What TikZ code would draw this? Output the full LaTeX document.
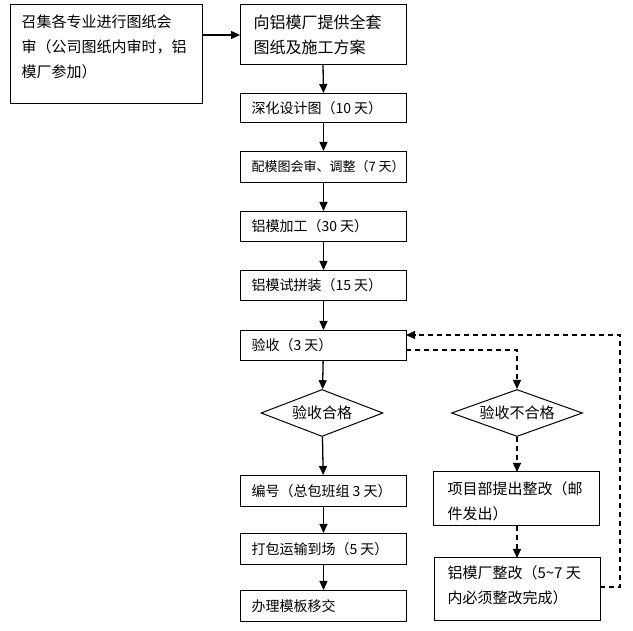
\documentclass[tikz,border=0pt]{standalone}
\usepackage{fontspec}
\setmainfont{Liberation Serif}
\newfontfamily\cjk{Noto Sans CJK SC}
\usetikzlibrary{shapes.geometric,arrows.meta,calc}
\begin{document}
\begin{tikzpicture}[x=1pt,y=-1pt,
  box/.style={draw,line width=1pt,rectangle,inner sep=0pt},
  txt/.style={font=\cjk\fontsize{14}{20}\selectfont,align=left,anchor=west},
  big/.style={font=\cjk\fontsize{15}{25}\selectfont,align=left,anchor=north west},
  dia/.style={draw,line width=1pt,diamond,aspect=2.6,inner sep=0pt,font=\cjk\fontsize{15}{16}\selectfont},
  ar/.style={line width=1.3pt,-{Triangle[length=9pt,width=8pt]}},
  da/.style={ar,dash pattern=on 5pt off 4pt}]
\useasboundingbox (0,0) rectangle (633,631);
\fill[white] (0,0) rectangle (633,631);
\draw[box] (10,5) rectangle (202,104);
\node[big] (a) at (18,11) {召集各专业进行图纸会\\审（公司图纸内审时，铝\\模厂参加）};
\coordinate (aR) at (202,35);
\draw[box] (240,5) rectangle (406,65);
\node[big,font=\cjk\fontsize{16}{25}\selectfont] (b) at (250,11) {向铝模厂提供全套\\图纸及施工方案};
\coordinate (bL) at (240,35);
\coordinate (bB) at (323,65);
\foreach \n/\t/\y/\h in {c/深化设计图（10 天）/93/29, d/{\fontsize{13}{16}\selectfont 配模图会审、调整（7 天）}/151/31, e/铝模加工（30 天）/211/30, f/铝模试拼装（15 天）/270/30, g/验收（3 天）/330/30, h/编号（总包班组 3 天）/475/31, i/打包运输到场（5 天）/533/31, j/办理模板移交/590/31}{
  \node[box,minimum width=166pt,minimum height=\h pt,anchor=north west] (\n) at (240,\y) {};
  \node[txt] at ($(\n.west)+(8,0)$) {\t};
}
\node[dia,minimum width=122pt,minimum height=47pt] (p) at (322,413) {验收合格};
\node[dia,minimum width=131pt,minimum height=47pt] (q) at (517,413) {验收不合格};
\draw[box] (433,472) rectangle (599,526);
\node[big] (k) at (444,478) {项目部提出整改（邮\\件发出）};
\coordinate (kT) at (517,472); \coordinate (kB) at (517,526);
\draw[box] (434,558) rectangle (600,620);
\node[big] (l) at (444,562) {铝模厂整改（5\textasciitilde 7 天\\内必须整改完成）};
\coordinate (lT) at (517,558);
\draw[ar] (aR) -- (bL);
\draw[ar] (bB) -- (c.north);
\draw[ar] (c) -- (d); \draw[ar] (d) -- (e); \draw[ar] (e) -- (f); \draw[ar] (f) -- (g);
\draw[ar] (g) -- (p); \draw[ar] (p) -- (h); \draw[ar] (h) -- (i); \draw[ar] (i) -- (j);
\draw[da] (406,350) -| (q.north);
\draw[da] (q) -- (kT);
\draw[da] (kB) -- (lT);
\draw[da] (600,587) -| (620,335) -- (406,335);
\end{tikzpicture}
\end{document}
